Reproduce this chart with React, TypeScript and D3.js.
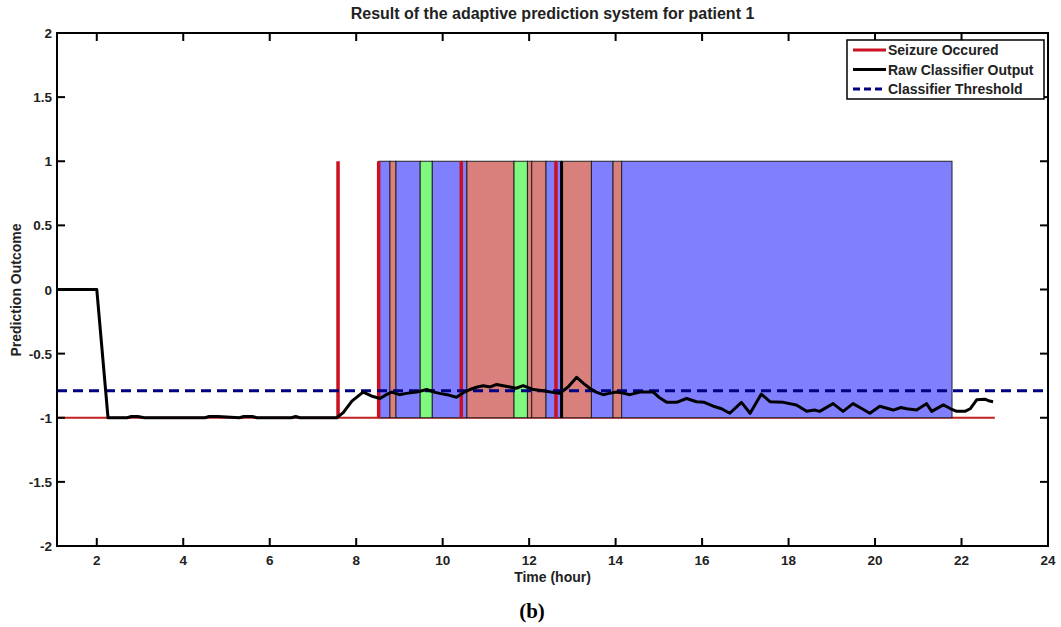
import React from "react";
import * as d3 from "d3";

// time (hour) of each seizure
const seizureTimes = [7.58, 8.52, 10.43, 12.62];
// extra alarm marker
const alarmTimes = [12.75];

// shaded prediction intervals
const regionStart = [8.52, 8.78, 8.92, 9.48, 9.76, 10.43, 10.56, 11.65, 11.96, 12.06, 12.39, 12.62, 12.75, 13.44, 13.94, 14.14];
const regionEnd = [8.78, 8.92, 9.48, 9.76, 10.43, 10.56, 11.65, 11.96, 12.06, 12.39, 12.62, 12.75, 13.44, 13.94, 14.14, 21.78];
const regionKind = ["fp", "tp", "fp", "ok", "fp", "fp", "tp", "ok", "tp", "tp", "fp", "fp", "tp", "fp", "tp", "fp"];

// raw classifier output
const outTime = [1.08, 2.0, 2.26, 2.7, 2.8, 2.95, 3.1, 4.5, 4.6, 4.8, 5.3, 5.4, 5.6, 5.7, 6.5, 6.6, 6.7, 7.55, 7.7, 7.9, 8.16, 8.35, 8.55, 8.7, 8.82, 9.0, 9.16, 9.4, 9.63, 9.8, 9.93, 10.1, 10.32, 10.5, 10.63, 10.8, 10.94, 11.1, 11.25, 11.4, 11.55, 11.7, 11.86, 12.1, 12.32, 12.5, 12.71, 12.9, 13.1, 13.25, 13.4, 13.55, 13.71, 13.85, 14.02, 14.2, 14.33, 14.56, 14.87, 15.0, 15.18, 15.41, 15.64, 15.87, 16.05, 16.26, 16.45, 16.64, 16.91, 17.11, 17.37, 17.57, 17.88, 18.18, 18.42, 18.6, 18.72, 19.03, 19.26, 19.49, 19.7, 19.88, 20.11, 20.42, 20.6, 20.73, 20.96, 21.19, 21.31, 21.58, 21.75, 21.89, 22.08, 22.2, 22.35, 22.54, 22.65, 22.73];
const outValue = [0, 0, -1, -1, -0.99, -0.99, -1, -1, -0.99, -0.99, -1, -0.99, -0.99, -1, -1, -0.99, -1, -1, -0.96, -0.87, -0.8, -0.83, -0.85, -0.82, -0.8, -0.82, -0.81, -0.8, -0.78, -0.8, -0.81, -0.82, -0.84, -0.8, -0.78, -0.76, -0.75, -0.76, -0.74, -0.75, -0.76, -0.77, -0.75, -0.78, -0.79, -0.8, -0.81, -0.76, -0.685, -0.73, -0.77, -0.8, -0.82, -0.81, -0.8, -0.81, -0.82, -0.8, -0.8, -0.84, -0.88, -0.88, -0.85, -0.875, -0.88, -0.91, -0.93, -0.965, -0.88, -0.965, -0.815, -0.875, -0.88, -0.9, -0.95, -0.94, -0.95, -0.89, -0.95, -0.89, -0.93, -0.965, -0.91, -0.94, -0.92, -0.93, -0.94, -0.89, -0.95, -0.9, -0.93, -0.95, -0.95, -0.93, -0.86, -0.855, -0.87, -0.875];

const threshold = -0.79;
const xTicks = [2, 4, 6, 8, 10, 12, 14, 16, 18, 20, 22, 24];
const yTicks = [-2, -1.5, -1, -0.5, 0, 0.5, 1, 1.5, 2];

const legendLabels = ["Seizure Occured", "Raw Classifier Output", "Classifier Threshold"];

const kindColor: Record<string, string> = { fp: "#8080ff", tp: "#d9807c", ok: "#80f880" };

export default function App() {
  const W = 1061, H = 627;
  const x = d3.scaleLinear().domain([1.08, 24]).range([57, 1048]);
  const y = d3.scaleLinear().domain([-2, 2]).range([546, 33]);
  const [x0, x1] = x.range();
  const [yb, yt] = y.range();
  const font = "'Liberation Sans', Arial, sans-serif";
  const midX = (x0 + x1) / 2;

  const line = d3.line<number>()
    .x((_, i) => x(outTime[i]))
    .y((v) => y(v));

  const legendColors = ["#cc1020", "#000", "#000080"];

  return (
    <svg width={W} height={H} style={{ position: "absolute", left: 0, top: 0, background: "#fff" }}>
      <rect width={W} height={H} fill="#fff" />
      <text x={midX} y={19} textAnchor="middle" fontFamily={font} fontWeight="bold" fontSize={16} fill="#222">
        Result of the adaptive prediction system for patient 1
      </text>

      {/* seizure baseline at -1 */}
      <line x1={x0} x2={x(22.77)} y1={y(-1)} y2={y(-1)} stroke="#c02020" strokeWidth={1.8} />

      {regionStart.map((s, i) => (
        <rect key={"r" + i} x={x(s)} y={y(1)} width={x(regionEnd[i]) - x(s)} height={y(-1) - y(1)}
          fill={kindColor[regionKind[i]]} stroke="#222" strokeWidth={1} />
      ))}

      {seizureTimes.map((t, i) => (
        <line key={"s" + i} x1={x(t)} x2={x(t)} y1={y(1)} y2={y(-1)} stroke="#cc1020" strokeWidth={3.5} />
      ))}
      {alarmTimes.map((t, i) => (
        <line key={"a" + i} x1={x(t)} x2={x(t)} y1={y(1)} y2={y(-1)} stroke="#000" strokeWidth={3} />
      ))}

      <line x1={x0} x2={x1} y1={y(threshold)} y2={y(threshold)} stroke="#000080" strokeWidth={3} strokeDasharray="10,6" />

      <path d={line(outValue) || ""} fill="none" stroke="#000" strokeWidth={3} strokeLinejoin="round" />

      {/* axes box */}
      <rect x={x0} y={yt} width={x1 - x0} height={yb - yt} fill="none" stroke="#000" strokeWidth={2} />
      {xTicks.map((t) => (
        <g key={"xt" + t}>
          <line x1={x(t)} x2={x(t)} y1={yb} y2={yb - 8} stroke="#000" strokeWidth={2} />
          <line x1={x(t)} x2={x(t)} y1={yt} y2={yt + 8} stroke="#000" strokeWidth={2} />
          <text x={x(t)} y={yb + 19} textAnchor="middle" fontFamily={font} fontWeight="bold" fontSize={13.5} fill="#222">{t}</text>
        </g>
      ))}
      {yTicks.map((t) => (
        <g key={"yt" + t}>
          <line x1={x0} x2={x0 + 8} y1={y(t)} y2={y(t)} stroke="#000" strokeWidth={2} />
          <line x1={x1} x2={x1 - 8} y1={y(t)} y2={y(t)} stroke="#000" strokeWidth={2} />
          <text x={x0 - 5} y={y(t) + 5} textAnchor="end" fontFamily={font} fontWeight="bold" fontSize={13.5} fill="#222">{t}</text>
        </g>
      ))}

      <text transform="translate(21,290) rotate(-90)" textAnchor="middle" fontFamily={font} fontWeight="bold" fontSize={14} fill="#222">
        Prediction Outcome
      </text>
      <text x={midX} y={582} textAnchor="middle" fontFamily={font} fontWeight="bold" fontSize={14} fill="#222">
        Time (hour)
      </text>
      <text x={532} y={618} textAnchor="middle" fontFamily="'Liberation Serif', 'Times New Roman', serif" fontWeight="bold" fontSize={21} fill="#000">
        (b)
      </text>

      {/* legend */}
      <rect x={847} y={40} width={197} height={59} fill="#fff" stroke="#000" strokeWidth={1.5} />
      {legendLabels.map((l, i) => (
        <g key={"lg" + i}>
          <line x1={853} x2={886} y1={50 + i * 19.5} y2={50 + i * 19.5} stroke={legendColors[i]} strokeWidth={3}
            strokeDasharray={i === 2 ? "7,4" : undefined} />
          <text x={888} y={55 + i * 19.5} fontFamily={font} fontWeight="bold" fontSize={14} fill="#222">{l}</text>
        </g>
      ))}
    </svg>
  );
}
